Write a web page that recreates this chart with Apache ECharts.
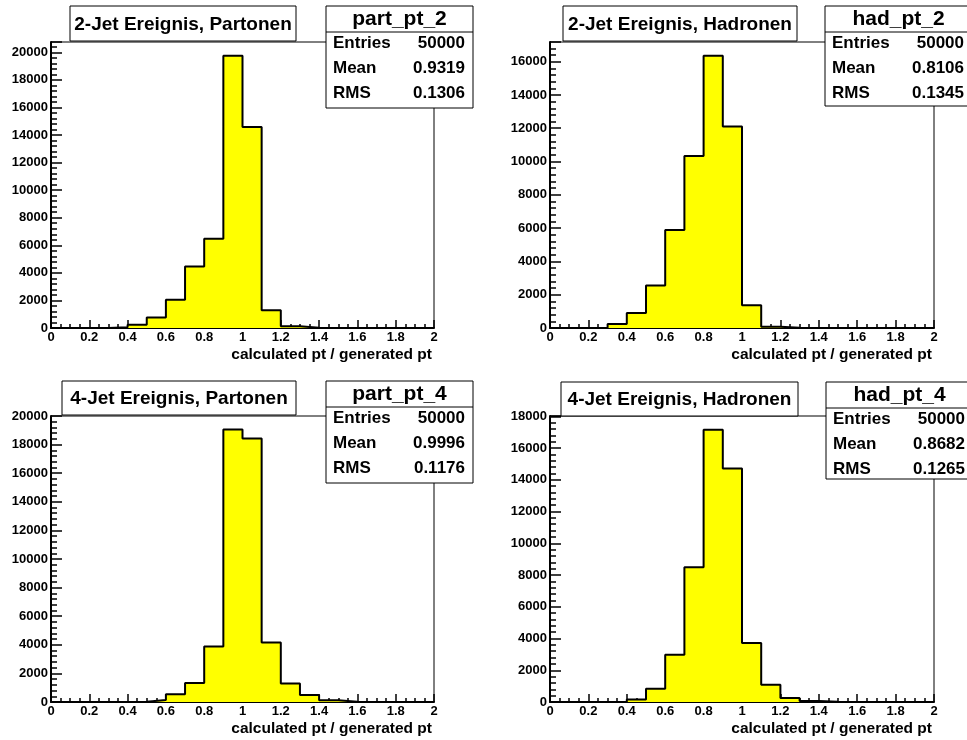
<!DOCTYPE html>
<html>
<head>
<meta charset="utf-8">
<script src="https://cdn.jsdelivr.net/npm/echarts@6/dist/echarts.min.js"></script>
<style>
  html, body { margin: 0; padding: 0; background: #fff; }
  #chart { width: 967px; height: 740px; }
</style>
</head>
<body>
<div id="chart"></div>
<script>
// bin edges (0.1 wide bins from 0 to 2)
const binEdges = [0, 0.1, 0.2, 0.3, 0.4, 0.5, 0.6, 0.7, 0.8, 0.9, 1.0,
  1.1, 1.2, 1.3, 1.4, 1.5, 1.6, 1.7, 1.8, 1.9, 2.0]

// bin contents
const partPt2 = [0, 0, 0, 50, 240, 770, 2050, 4460, 6480, 19760, 14580, 1280, 120, 10, 0, 0, 0, 0, 0, 0]
const hadPt2 = [0, 0, 20, 240, 900, 2550, 5890, 10330, 16360, 12110, 1360, 80, 10, 0, 0, 0, 0, 0, 0, 0]
const partPt4 = [0, 0, 0, 0, 20, 140, 535, 1330, 3880, 19050, 18420, 4160, 1300, 490, 120, 20, 0, 0, 0, 0]
const hadPt4 = [0, 0, 0, 0, 150, 840, 2975, 8485, 17160, 14710, 3710, 1090, 250, 60, 20, 0, 0, 0, 0, 0]

const histTitles = ['2-Jet Ereignis, Partonen', '2-Jet Ereignis, Hadronen', '4-Jet Ereignis, Partonen', '4-Jet Ereignis, Hadronen']
const histNames = ['part_pt_2', 'had_pt_2', 'part_pt_4', 'had_pt_4']
const statEntries = ['50000', '50000', '50000', '50000']
const statMeans = ['0.9319', '0.8106', '0.9996', '0.8682']
const statRms = ['0.1306', '0.1345', '0.1176', '0.1265']
const yMax = [20750, 17180, 20000, 18020]
const xTitle = 'calculated pt / generated pt'

const histData = [partPt2, hadPt2, partPt4, hadPt4]

// pad layout (pixels)
const pads = [
  { grid: { left: 51, top: 42, width: 383, height: 286 },
    tbox: { x: 70, y: 6, w: 226, h: 35 }, sbox: { x: 326, y: 6, w: 147, h: 102 } },
  { grid: { left: 550, top: 42, width: 384, height: 286 },
    tbox: { x: 563, y: 6, w: 234, h: 35 }, sbox: { x: 825, y: 6, w: 147, h: 100 } },
  { grid: { left: 51, top: 416, width: 383, height: 286 },
    tbox: { x: 62, y: 381, w: 234, h: 34 }, sbox: { x: 326, y: 381, w: 147, h: 102 } },
  { grid: { left: 550, top: 416, width: 384, height: 286 },
    tbox: { x: 561, y: 382, w: 237, h: 34 }, sbox: { x: 826, y: 382, w: 147, h: 97 } }
]

const font = 'Liberation Sans, Arial, Helvetica, sans-serif'

const chart = echarts.init(document.getElementById('chart'))

const grids = []
const xAxes = []
const yAxes = []
const series = []
const graphics = []

pads.forEach((pad, i) => {
  grids.push(Object.assign({
    show: true,
    borderColor: '#000',
    borderWidth: 1,
    backgroundColor: '#fff'
  }, pad.grid))

  xAxes.push({
    type: 'value',
    gridIndex: i,
    min: 0,
    max: 2,
    interval: 0.2,
    axisLine: { show: true, onZero: false, lineStyle: { color: '#000', width: 2 } },
    axisTick: { show: true, inside: true, length: 8, lineStyle: { color: '#000', width: 1.5 } },
    minorTick: { show: true, splitNumber: 4, length: 4, lineStyle: { color: '#000', width: 1.5 } },
    splitLine: { show: false },
    axisLabel: {
      color: '#000', fontFamily: font, fontWeight: 'bold', fontSize: 13, margin: 3,
      formatter: v => String(Math.round(v * 10) / 10)
    },
    name: xTitle,
    nameLocation: 'end',
    nameGap: -2,
    nameTextStyle: {
      color: '#000', fontFamily: font, fontWeight: 'bold', fontSize: 15.5,
      align: 'right', verticalAlign: 'top', padding: [19, 0, 0, 0]
    }
  })

  yAxes.push({
    type: 'value',
    gridIndex: i,
    min: 0,
    max: yMax[i],
    interval: 2000,
    axisLine: { show: true, lineStyle: { color: '#000', width: 2 } },
    axisTick: { show: true, inside: true, length: 11, lineStyle: { color: '#000', width: 1.5 } },
    minorTick: { show: true, splitNumber: 5, length: 6, lineStyle: { color: '#000', width: 1.5 } },
    splitLine: { show: false },
    axisLabel: {
      color: '#000', fontFamily: font, fontWeight: 'bold', fontSize: 13, margin: 3,
      formatter: v => (v % 2000 === 0 ? String(v) : '')
    }
  })

  const counts = histData[i]
  series.push({
    type: 'line',
    xAxisIndex: i,
    yAxisIndex: i,
    step: 'end',
    symbol: 'none',
    silent: true,
    lineStyle: { color: '#000', width: 2 },
    areaStyle: { color: '#ffff00', opacity: 1 },
    data: binEdges.map((e, k) => [e, counts[Math.min(k, counts.length - 1)]])
  })

  // title box
  const t = pad.tbox
  graphics.push({
    type: 'rect', shape: { x: t.x, y: t.y, width: t.w, height: t.h },
    style: { fill: '#fff', stroke: '#000', lineWidth: 1 }, z: 10
  })
  graphics.push({
    type: 'text', x: t.x + t.w / 2, y: t.y + t.h / 2 + 1, z: 11,
    style: {
      text: histTitles[i], fill: '#000', font: 'bold 19px ' + font,
      textAlign: 'center', textVerticalAlign: 'middle'
    }
  })

  // stats box
  const s = pad.sbox
  graphics.push({
    type: 'rect', shape: { x: s.x, y: s.y, width: s.w, height: s.h },
    style: { fill: '#fff', stroke: '#000', lineWidth: 1 }, z: 10
  })
  graphics.push({
    type: 'line', shape: { x1: s.x, y1: s.y + 26, x2: s.x + s.w, y2: s.y + 26 },
    style: { stroke: '#000', lineWidth: 1 }, z: 11
  })
  graphics.push({
    type: 'text', x: s.x + s.w / 2, y: s.y + 13, z: 11,
    style: {
      text: histNames[i], fill: '#000', font: 'bold 21px ' + font,
      textAlign: 'center', textVerticalAlign: 'middle'
    }
  })
  const rowLabels = ['Entries', 'Mean', 'RMS']
  const rowValues = [statEntries[i], statMeans[i], statRms[i]]
  const rowY = [37.5, 62.5, 87]
  rowLabels.forEach((lab, r) => {
    graphics.push({
      type: 'text', x: s.x + 7, y: s.y + rowY[r], z: 11,
      style: { text: lab, fill: '#000', font: 'bold 17px ' + font, textAlign: 'left', textVerticalAlign: 'middle' }
    })
    graphics.push({
      type: 'text', x: s.x + s.w - 8, y: s.y + rowY[r], z: 11,
      style: { text: rowValues[r], fill: '#000', font: 'bold 17px ' + font, textAlign: 'right', textVerticalAlign: 'middle' }
    })
  })
})

chart.setOption({
  backgroundColor: '#fff',
  animation: false,
  grid: grids,
  xAxis: xAxes,
  yAxis: yAxes,
  series: series,
  graphic: graphics
})
</script>
</body>
</html>
